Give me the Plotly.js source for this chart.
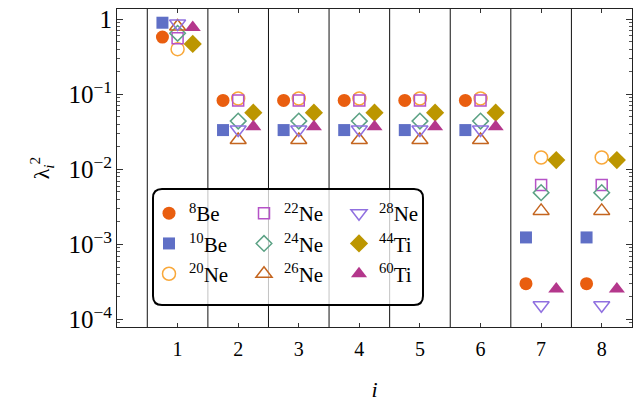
<!DOCTYPE html>
<html><head><meta charset="utf-8">
<script src="https://cdn.plot.ly/plotly-3.0.1.min.js"></script>
<style>html,body{margin:0;padding:0;background:#fff}</style>
</head><body><div id="chart" style="width:641px;height:404px"></div>
<script>
// ---- data ----
const categories = [1, 2, 3, 4, 5, 6, 7, 8];
const be8  = [0.58, 0.083, 0.083, 0.083, 0.083, 0.083, 0.00030, 0.00030];
const be10 = [0.90, 0.0334, 0.0334, 0.0334, 0.0334, 0.0334, 0.00124, 0.00124];
const ne20 = [0.40, 0.088, 0.088, 0.088, 0.088, 0.088, 0.0144, 0.0144];
const ne22 = [0.56, 0.083, 0.083, 0.083, 0.083, 0.083, 0.0062, 0.0062];
const ne24 = [0.65, 0.044, 0.044, 0.044, 0.044, 0.044, 0.0049, 0.0049];
const ne26 = [0.80, 0.0246, 0.0246, 0.0246, 0.0246, 0.0246, 0.0028, 0.0028];
const ne28 = [0.88, 0.034, 0.034, 0.034, 0.034, 0.034, 0.000155, 0.000155];
const ti44 = [0.47, 0.057, 0.057, 0.057, 0.057, 0.057, 0.0133, 0.0133];
const ti60 = [0.78, 0.037, 0.037, 0.037, 0.037, 0.037, 0.000254, 0.000254];
const seriesNames = ['<sup>8</sup>Be', '<sup>10</sup>Be', '<sup>20</sup>Ne',
  '<sup>22</sup>Ne', '<sup>24</sup>Ne', '<sup>26</sup>Ne',
  '<sup>28</sup>Ne', '<sup>44</sup>Ti', '<sup>60</sup>Ti'];
const seriesValues = [be8, be10, ne20, ne22, ne24, ne26, ne28, ti44, ti60];

// ---- styles ----
const FONT = 'Liberation Serif';
const styles = [
  {off: -0.25, symbol: 'circle',             color: '#E95E0F', size: 13, legend: 'legend'},
  {off: -0.25, symbol: 'square',             color: '#5F6FC6', size: 12, legend: 'legend'},
  {off: 0,     symbol: 'circle-open',        color: '#F9A83A', size: 13, legend: 'legend'},
  {off: 0,     symbol: 'square-open',        color: '#B552C7', size: 11, legend: 'legend2'},
  {off: 0,     symbol: 'diamond-open',       color: '#5CA285', size: 12, legend: 'legend2'},
  {off: 0,     symbol: 'triangle-up-open',   color: '#C4651F', size: 14, legend: 'legend2'},
  {off: 0,     symbol: 'triangle-down-open', color: '#9070E0', size: 14, legend: 'legend3'},
  {off: 0.25,  symbol: 'diamond',            color: '#BC9600', size: 14, legend: 'legend3'},
  {off: 0.25,  symbol: 'triangle-up',        color: '#B4378C', size: 14, legend: 'legend3'}
];

const traces = seriesValues.map((vals, k) => {
  const st = styles[k];
  const open = st.symbol.endsWith('-open');
  return {
    type: 'scatter', mode: 'markers',
    x: categories.map(c => c + st.off), y: vals,
    name: seriesNames[k], legend: st.legend, legendgroup: 'g' + k,
    marker: {symbol: st.symbol, size: st.size, color: st.color,
             line: {color: st.color, width: open ? 1.5 : 0}},
    hoverinfo: 'skip'
  };
});

// separator lines around categories
const shapes = categories.map(c => ({
  type: 'line', xref: 'x', yref: 'paper', x0: c - 0.5, x1: c - 0.5, y0: 0, y1: 1,
  line: {color: '#111', width: 1}, layer: 'below'
}));

// legend box (rounded rectangle, paper coords)
const W = 641, H = 404, M = {l: 117, r: 9, t: 9, b: 77};
const pw = W - M.l - M.r, ph = H - M.t - M.b;
const px = v => (v - M.l) / pw, py = v => 1 - (v - M.t) / ph;
const bx0 = px(153), bx1 = px(423), by0 = py(305), by1 = py(189);
const rx = 9 / pw, ry = 9 / ph;
const boxPath = `M ${bx0 + rx},${by1} L ${bx1 - rx},${by1} Q ${bx1},${by1} ${bx1},${by1 - ry} ` +
  `L ${bx1},${by0 + ry} Q ${bx1},${by0} ${bx1 - rx},${by0} L ${bx0 + rx},${by0} ` +
  `Q ${bx0},${by0} ${bx0},${by0 + ry} L ${bx0},${by1 - ry} Q ${bx0},${by1} ${bx0 + rx},${by1} Z`;
shapes.push({type: 'path', xref: 'paper', yref: 'paper', path: boxPath,
  line: {color: '#000', width: 2}, fillcolor: 'rgba(255,255,255,0.75)', layer: 'below'});

const legendBase = {
  bgcolor: 'rgba(0,0,0,0)', borderwidth: 0, xanchor: 'left', yanchor: 'top',
  y: py(193), font: {family: FONT, size: 21, color: '#000'}, tracegroupgap: 8,
  traceorder: 'normal'
};

const layout = {
  width: W, height: H, margin: M,
  paper_bgcolor: '#fff', plot_bgcolor: '#fff',
  font: {family: FONT, size: 18, color: '#000'},
  showlegend: true,
  legend:  Object.assign({}, legendBase, {x: px(149)}),
  legend2: Object.assign({}, legendBase, {x: px(244)}),
  legend3: Object.assign({}, legendBase, {x: px(339)}),
  xaxis: {
    range: [0, 8.5], tickvals: categories, ticktext: categories.map(String),
    ticks: 'inside', ticklen: 4, tickcolor: '#333',
    showline: true, linecolor: '#222', linewidth: 1, mirror: 'allticks',
    showgrid: false, zeroline: false, ticklabelstandoff: 4,
    tickfont: {family: FONT, size: 20},
    title: {text: '<i>i</i>', font: {family: FONT, size: 22}, standoff: 22}
  },
  yaxis: {
    type: 'log', range: [-4.1, 0.137], dtick: 1, exponentformat: 'power',
    ticks: 'inside', ticklen: 6, tickcolor: '#333',
    minor: {dtick: 'D1', ticks: 'inside', ticklen: 3, tickcolor: '#555', showgrid: false},
    showline: true, linecolor: '#222', linewidth: 1, mirror: 'allticks',
    showgrid: false, zeroline: false,
    tickfont: {family: FONT, size: 20},
    title: {text: 'λ<sub><i>i</i></sub><sup>2</sup>', font: {family: FONT, size: 22}, standoff: 12}
  },
  shapes: shapes
};

Plotly.newPlot('chart', traces, layout, {displayModeBar: false, staticPlot: true});
</script>
</body></html>
